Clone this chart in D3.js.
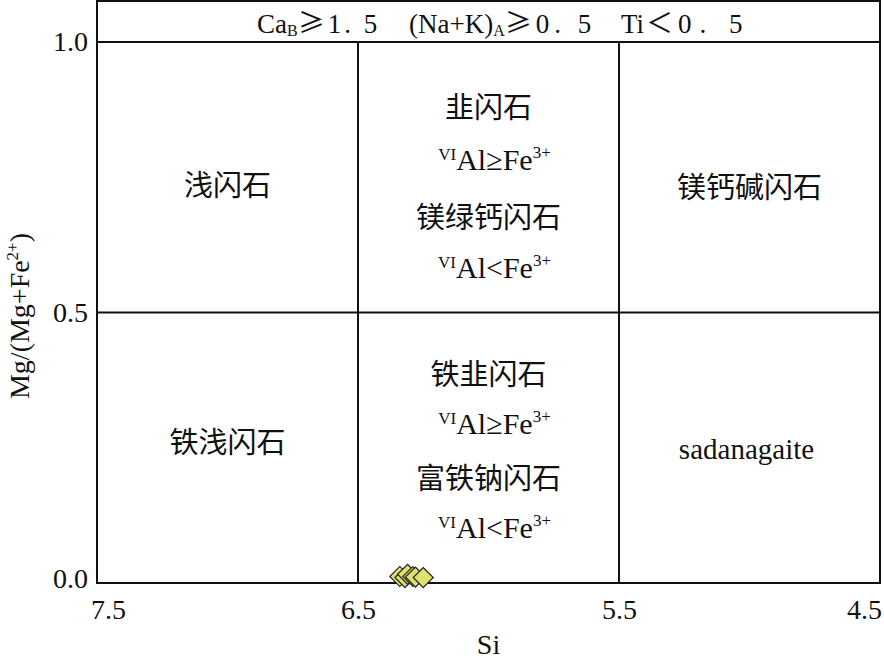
<!DOCTYPE html>
<html>
<head>
<meta charset="utf-8">
<script src="https://cdn.jsdelivr.net/npm/d3@7"></script>
<style>
  body { margin: 0; background: #fff; }
  text { font-family: "Liberation Serif", "Noto Sans CJK SC", serif; fill: #111; }
  .cjk { font-family: "Noto Sans CJK SC", sans-serif; }
</style>
</head>
<body>
<script>
// data
const siValues = [6.34, 6.32, 6.31, 6.29, 6.28, 6.25];
const mgValues = [0.012, 0.010, 0.016, 0.012, 0.011, 0.010];
const xTicks = [7.5, 6.5, 5.5, 4.5];
const yTicks = [0.0, 0.5, 1.0];
const siBounds = [6.5, 5.5];
const mgBound = 0.5;

const W = 884, H = 662;
const serif = '"Liberation Serif", serif';
const svg = d3.select('body').append('svg')
  .attr('width', W).attr('height', H);

const x = d3.scaleLinear().domain([7.5, 4.5]).range([97, 880]);
const y = d3.scaleLinear().domain([0, 1]).range([583, 42]);

const frameTop = 1;

// frame
svg.append('rect')
  .attr('x', x(7.5)).attr('y', frameTop)
  .attr('width', x(4.5) - x(7.5)).attr('height', y(0) - frameTop)
  .attr('fill', 'none').attr('stroke', '#111').attr('stroke-width', 2);

// field boundaries
svg.append('line')
  .attr('x1', x(7.5)).attr('x2', x(4.5))
  .attr('y1', y(1)).attr('y2', y(1))
  .attr('stroke', '#111').attr('stroke-width', 2);
svg.append('line')
  .attr('x1', x(7.5)).attr('x2', x(4.5))
  .attr('y1', y(mgBound)).attr('y2', y(mgBound))
  .attr('stroke', '#111').attr('stroke-width', 2);
svg.selectAll('.vb').data(siBounds).enter().append('line')
  .attr('x1', d => x(d)).attr('x2', d => x(d))
  .attr('y1', y(1)).attr('y2', y(0))
  .attr('stroke', '#111').attr('stroke-width', 2);

// axes (labels only, the frame does the lines)
const xAxis = d3.axisBottom(x).tickValues(xTicks).tickFormat(d3.format('.1f')).tickSize(0).tickPadding(16);
const gx = svg.append('g').attr('transform', `translate(0,${y(0)})`).call(xAxis);
gx.select('.domain').remove();
gx.selectAll('text')
  .style('font-size', '28px').style('font-family', serif).attr('fill', '#111')
  .attr('dx', (d, i) => i === 0 ? 11 : (i === xTicks.length - 1 ? -16 : 0));

const yAxis = d3.axisLeft(y).tickValues(yTicks).tickFormat(d3.format('.1f')).tickSize(0).tickPadding(9);
const gy = svg.append('g').attr('transform', `translate(${x(7.5)},0)`).call(yAxis);
gy.select('.domain').remove();
gy.selectAll('text').style('font-size', '28px').style('font-family', serif).attr('fill', '#111')
  .attr('dy', (d) => d === 0 ? '0.15em' : '0.32em');

// axis titles
svg.append('text')
  .attr('x', (x(7.5) + x(4.5)) / 2).attr('y', 654)
  .attr('text-anchor', 'middle').style('font-size', '28px').text('Si');

const yt = svg.append('text')
  .attr('transform', 'translate(29,316) rotate(-90)')
  .attr('text-anchor', 'middle').style('font-size', '28px');
yt.append('tspan').text('Mg/(Mg+Fe');
yt.append('tspan').attr('dy', -11).style('font-size', '17px').text('2+');
yt.append('tspan').attr('dy', 11).text(')');

// header conditions
const hdr = svg.append('text').attr('y', 33).style('font-size', '27px');
hdr.append('tspan').attr('x', 257).text('Ca');
hdr.append('tspan').attr('dy', 3).style('font-size', '16px').text('B');
hdr.append('tspan').attr('dy', -3).attr('class', 'cjk').text('≥');
hdr.append('tspan').attr('dx', 3).style('letter-spacing', '3px').text('1. 5');
hdr.append('tspan').attr('x', 409).text('(Na+K)');
hdr.append('tspan').attr('dy', 3).style('font-size', '16px').text('A');
hdr.append('tspan').attr('dy', -3).attr('class', 'cjk').text('≥');
hdr.append('tspan').attr('dx', 4).style('letter-spacing', '5px').text('0. 5');
hdr.append('tspan').attr('x', 621).text('Ti');
hdr.append('tspan').attr('dx', 2).attr('class', 'cjk').text('＜');
hdr.append('tspan').attr('dx', 5).style('letter-spacing', '8px').text('0. 5');

// field names
function cjkLabel(cx, cy, s) {
  svg.append('text').attr('class', 'cjk')
    .attr('x', cx).attr('y', cy).attr('text-anchor', 'middle')
    .attr('dominant-baseline', 'central')
    .style('font-size', '29px').text(s);
}
function alLabel(cx, cy, op) {
  const t = svg.append('text').attr('x', cx + 6).attr('y', cy + 10)
    .attr('text-anchor', 'middle').style('font-size', '30px');
  t.append('tspan').attr('dy', -10).style('font-size', '17px').text('VI');
  t.append('tspan').attr('dy', 10).text('Al' + op + 'Fe');
  t.append('tspan').attr('dy', -12).style('font-size', '17px').text('3+');
}

const midX = (x(6.5) + x(5.5)) / 2;
const leftX = (x(7.5) + x(6.5)) / 2;
const rightX = (x(5.5) + x(4.5)) / 2;

cjkLabel(leftX, 183, '浅闪石');
cjkLabel(leftX, 440, '铁浅闪石');
cjkLabel(rightX, 185, '镁钙碱闪石');
svg.append('text').attr('x', rightX - 3).attr('y', 459).attr('text-anchor', 'middle')
  .style('font-size', '29px').text('sadanagaite');

cjkLabel(midX, 105, '韭闪石');
alLabel(midX, 160, '≥');
cjkLabel(midX, 215, '镁绿钙闪石');
alLabel(midX, 268, '<');
cjkLabel(midX, 372, '铁韭闪石');
alLabel(midX, 424, '≥');
cjkLabel(midX, 476, '富铁钠闪石');
alLabel(midX, 528, '<');

// samples
const pts = siValues.map((s, i) => ({ si: s, mg: mgValues[i] }));
const diamond = d3.symbol().type(d3.symbolSquare).size(200);
svg.selectAll('.pt').data(pts).enter().append('path')
  .attr('d', diamond)
  .attr('transform', d => `translate(${x(d.si)},${y(d.mg)}) rotate(45)`)
  .attr('fill', '#e0e070').attr('stroke', '#222').attr('stroke-width', 1.2);
</script>
</body>
</html>
